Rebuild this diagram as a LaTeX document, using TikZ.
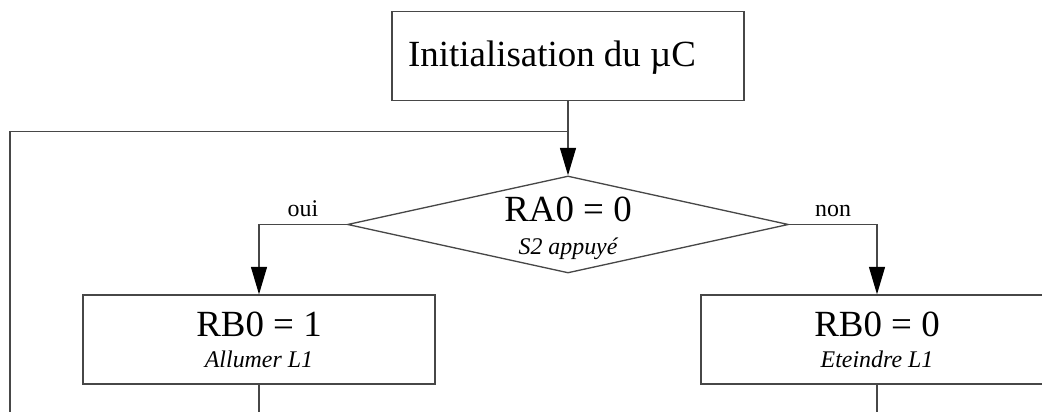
\documentclass[tikz,border=0pt]{standalone}
\usepackage{fontspec}
\setmainfont{Liberation Serif}
\usetikzlibrary{shapes.geometric,arrows.meta,positioning}
\definecolor{linegray}{gray}{0.28}
\begin{document}
\begin{tikzpicture}[
  flow/.style={draw=linegray, line width=0.75pt},
  arrow/.style={flow, -{Triangle[length=0.55cm,width=0.32cm,color=black]}},
  stepbox/.style={flow, rectangle, minimum width=7.04cm, minimum height=1.78cm, inner sep=0pt},
  decision/.style={flow, diamond, minimum width=8.82cm, minimum height=1.94cm, inner sep=0pt},
  bigtxt/.style={font=\fontsize{21}{25}\selectfont, anchor=base, inner sep=0pt},
  subtxt/.style={font=\fontsize{13.6}{16}\selectfont\itshape, anchor=base, inner sep=0pt},
  branch/.style={font=\fontsize{13.6}{16}\selectfont, anchor=base, inner sep=0pt}
]
  \useasboundingbox (0,0) rectangle (20.84,8.24);

  % Boxes
  \node[stepbox] (init) at (11.36,7.12) {};
  \node[decision] (test) at (11.36,3.75) {};
  \node[stepbox] (on) at (5.18,1.45) {};
  \node[stepbox] (off) at (17.54,1.45) {};

  % Texts
  \node[bigtxt] (inittxt) at ([xshift=-0.32cm,yshift=-0.21cm]init.center) {Initialisation du µC};
  \node[bigtxt] (testtxt) at ([yshift=0.05cm]test.center) {RA0 = 0};
  \node[subtxt] (testsub) at ([yshift=-0.6cm]test.center) {S2 appuyé};
  \node[bigtxt] (ontxt) at ([yshift=0.06cm]on.center) {RB0 = 1};
  \node[subtxt] (onsub) at ([yshift=-0.57cm]on.center) {Allumer L1};
  \node[bigtxt] (offtxt) at ([yshift=0.06cm]off.center) {RB0 = 0};
  \node[subtxt] (offsub) at ([yshift=-0.57cm]off.center) {Eteindre L1};

  % Loop back
  \coordinate (join) at (11.36,5.61);
  \coordinate (loopend) at (0.2,0);
  \draw[flow] (loopend) |- (join);

  % Connectors
  \draw[arrow] (init.south) -- (test.north);
  \draw[arrow] (test.west) -| node[branch, pos=0.25, yshift=0.15cm] (oui) {oui} (on.north);
  \draw[arrow] (test.east) -| node[branch, pos=0.25, yshift=0.15cm] (non) {non} (off.north);

  % Exits
  \coordinate (onout) at (5.18,0);
  \coordinate (offout) at (17.54,0);
  \draw[flow] (on.south) -- (onout);
  \draw[flow] (off.south) -- (offout);
\end{tikzpicture}
\end{document}
